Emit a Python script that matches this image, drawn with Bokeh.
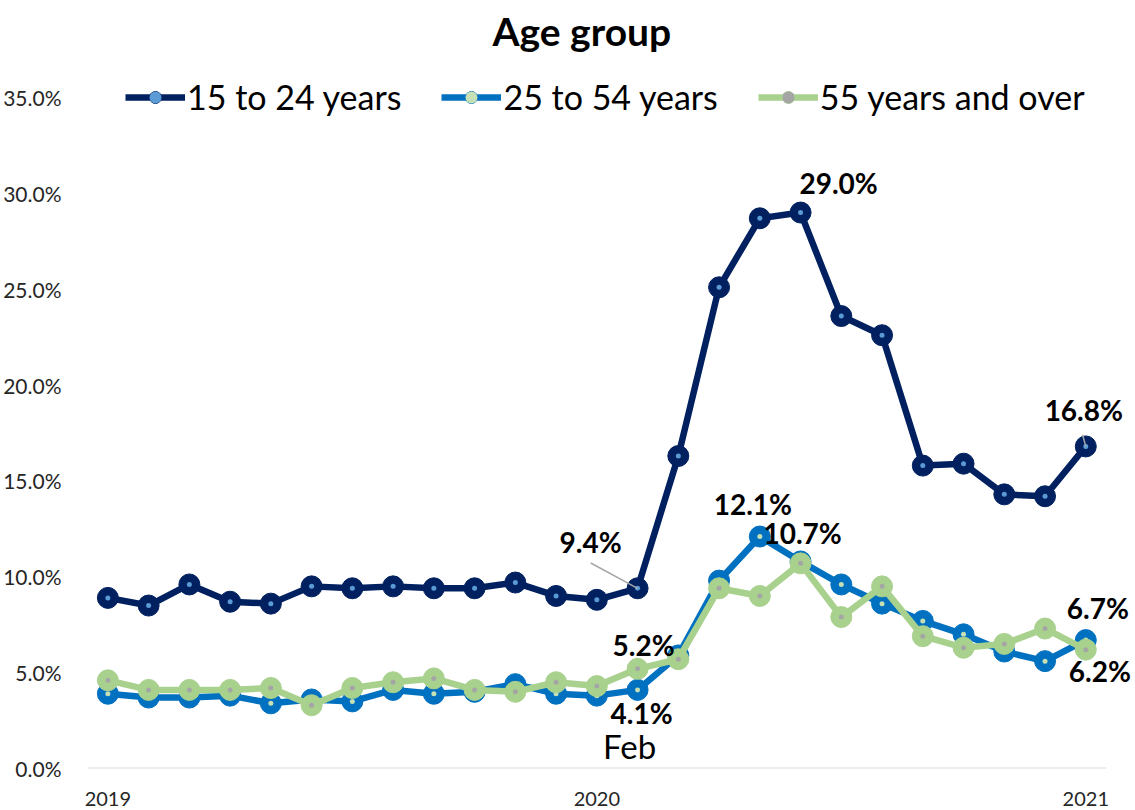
from bokeh.plotting import figure
from bokeh.models import Legend, LegendItem, Label, FixedTicker, Range1d
from bokeh.embed import file_html
from bokeh.resources import INLINE

# ---- data (monthly, Jan 2019 .. Jan 2021) ----
months = list(range(25))  # month index, 0 = Jan 2019
year_ticks = [0, 12, 24]
year_labels = ["2019", "2020", "2021"]
y_ticks = [0, 5, 10, 15, 20, 25, 30, 35]

series_names = ["15 to 24 years", "25 to 54 years", "55 years and over"]
age_15_24 = [8.9, 8.5, 9.6, 8.7, 8.6, 9.5, 9.4, 9.5, 9.4, 9.4, 9.7, 9.0, 8.8,
             9.4, 16.3, 25.1, 28.7, 29.0, 23.6, 22.6, 15.8, 15.9, 14.3, 14.2, 16.8]
age_25_54 = [3.9, 3.7, 3.7, 3.8, 3.4, 3.6, 3.5, 4.1, 3.9, 4.0, 4.4, 3.9, 3.8,
             4.1, 5.9, 9.8, 12.1, 10.8, 9.6, 8.6, 7.7, 7.0, 6.1, 5.6, 6.7]
age_55_over = [4.6, 4.1, 4.1, 4.1, 4.2, 3.3, 4.2, 4.5, 4.7, 4.1, 4.0, 4.5, 4.3,
               5.2, 5.7, 9.4, 9.0, 10.7, 7.9, 9.5, 6.9, 6.3, 6.5, 7.3, 6.2]

colors = ["#002060", "#0070C0", "#A9D18E"]
dot_colors = ["#5B9BD5", "#C5E0B4", "#A5A5A5"]

# data labels: (series index, month index, text, x_offset px, y_offset px)
data_labels = [
    (0, 13, "9.4%", -47, 46),
    (0, 17, "29.0%", 38, 30),
    (0, 24, "16.8%", -2, 36),
    (1, 16, "12.1%", -7, 33),
    (2, 17, "10.7%", 2, 30),
    (2, 13, "5.2%", 6, 24),
    (1, 13, "4.1%", 4, -23),
    (1, 24, "6.7%", 12, 32),
    (2, 24, "6.2%", 14, -21),
]

FONT = "Lato"
Y_END = 40.06

p = figure(width=1135, height=810, output_backend="svg", toolbar_location=None,
           x_range=Range1d(-0.5, 25.22), y_range=Range1d(0, Y_END),
           min_border_left=87, min_border_right=0, min_border_bottom=42, min_border_top=0)
p.outline_line_color = None
p.grid.grid_line_color = None
p.background_fill_color = "white"

# axes
p.xaxis.ticker = FixedTicker(ticks=year_ticks)
p.xaxis.major_label_overrides = {t: l for t, l in zip(year_ticks, year_labels)}
p.xaxis.axis_line_color = None
p.xaxis.major_tick_line_color = None
p.xaxis.minor_tick_line_color = None
p.xaxis.major_label_text_font = FONT
p.xaxis.major_label_text_font_size = "20px"
p.xaxis.major_label_text_color = "#262626"
p.xaxis.major_label_standoff = 17

p.yaxis.ticker = FixedTicker(ticks=y_ticks)
p.yaxis.major_label_overrides = {t: f"{t:.1f}%" for t in y_ticks}
p.yaxis.axis_line_color = None
p.yaxis.major_tick_line_color = None
p.yaxis.minor_tick_line_color = None
p.yaxis.major_label_text_font = FONT
p.yaxis.major_label_text_font_size = "21px"
p.yaxis.major_label_text_color = "#262626"
p.yaxis.major_label_standoff = 20

# category axis baseline (spans the months only)
p.segment(x0=[months[0] - 0.5], y0=[0], x1=[months[-1] + 0.5], y1=[0],
          line_color="#D9D9D9", line_width=2)

all_series = [age_15_24, age_25_54, age_55_over]
items = []
for name, vals, c, dc in zip(series_names, all_series, colors, dot_colors):
    ln = p.line(months, vals, line_color=c, line_width=6.5, line_join="round")
    mk = p.scatter(months, vals, size=21, marker="circle", fill_color=c, line_color=c)
    dt = p.scatter(months, vals, size=5, marker="circle", fill_color=dc, line_color=None)
    items.append(LegendItem(label=name, renderers=[ln, mk, dt]))

# leader lines for two labels
lead_x0 = [13 - 1.15, 24 - 0.08]
lead_y0 = [age_15_24[13] + 1.32, age_15_24[24] + 0.61]
p.segment(x0=lead_x0, y0=lead_y0, x1=[13, 24], y1=[age_15_24[13], age_15_24[24]],
          line_color="#A6A6A6", line_width=1.5)

for si, mi, txt, dx, dy in data_labels:
    p.add_layout(Label(x=months[mi], y=all_series[si][mi], text=txt, x_offset=dx, y_offset=dy,
                       text_align="center", text_baseline="middle", text_font=FONT,
                       text_font_size="28px", text_font_style="bold", text_color="black"))

p.add_layout(Label(x=months[13], y=0, text="Feb", x_offset=-8, y_offset=23,
                   text_align="center", text_baseline="middle", text_font=FONT,
                   text_font_size="33px", text_color="black"))

# chart title
p.add_layout(Label(x=(months[0] + months[-1]) / 2, y=Y_END, text="Age group",
                   x_offset=-15, y_offset=-30, text_align="center", text_baseline="alphabetic",
                   text_font=FONT, text_font_size="39px", text_font_style="bold",
                   text_color="black"))

legend = Legend(items=items, orientation="horizontal", location=(38, 651),
                label_text_font=FONT, label_text_font_size="34px", label_text_color="black",
                glyph_width=60, glyph_height=30, label_standoff=2, spacing=40,
                padding=0, margin=0, border_line_alpha=0, background_fill_alpha=0)
p.add_layout(legend)

open("out.html", "w").write(file_html(p, INLINE))
